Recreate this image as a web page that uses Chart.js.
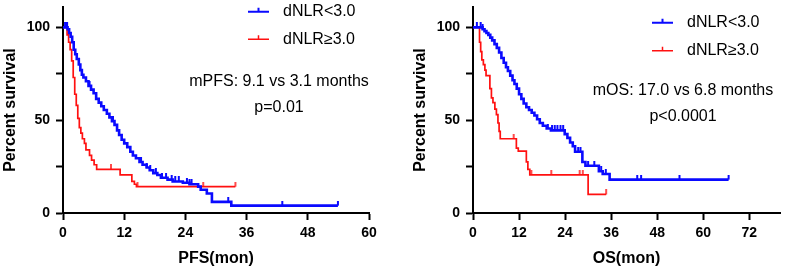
<!DOCTYPE html>
<html><head><meta charset="utf-8">
<script src="https://cdn.jsdelivr.net/npm/chart.js@4"></script>
<style>
html,body{margin:0;padding:0;background:#fff;}
#wrap{position:relative;width:785px;height:274px;overflow:hidden;background:#fff;}
#c1{position:absolute;left:0;top:0;}
#c2{position:absolute;left:395px;top:0;}
</style></head><body>
<div id="wrap"><canvas id="c1" width="395" height="274"></canvas><canvas id="c2" width="390" height="274"></canvas></div>
<script>
// ---------- DATA (time in months, survival in %) ----------
const seriesLabels = ['dNLR<3.0', 'dNLR\u22653.0'];

const pfsLow = [[0,100],[0.9,99],[1.2,97],[1.5,95],[1.8,92],[2.1,88],[2.4,85.5],[2.7,83],[3.1,80],[3.4,77],[3.7,74.5],[4.0,73],[4.5,71],[5.0,68.5],[5.5,66.5],[6.0,64.5],[6.5,61.5],[7.0,59.5],[7.5,57.5],[8.0,55.5],[8.6,53.5],[9.1,51.5],[9.6,49.5],[10.1,47.5],[10.6,44.5],[11.0,42],[11.5,39.5],[12.0,37.5],[12.6,35.5],[13.2,33],[13.7,31],[14.3,29.5],[15.0,27.5],[15.6,26],[16.4,24.5],[17.0,23],[17.7,21.5],[18.5,20.5],[19.2,19],[20.5,18],[21.5,17],[23.5,16.3],[24.8,15.5],[26.5,14.2],[27.0,12.5],[28.2,10.5],[29.2,6],[33.0,4],[53.9,4]];
const pfsLowCensor = [0.4,0.6,0.8,5.2,9.8,15.3,16.4,17.1,18.2,19.4,20.2,21.3,22.0,22.7,24.3,24.8,25.2,32.4,43.0,53.9];
const pfsHigh = [[0,100],[0.8,96],[1.1,92],[1.4,88],[1.7,82],[2.0,73],[2.3,64],[2.6,58],[2.9,51],[3.2,46],[3.5,43],[3.8,40],[4.2,37.5],[4.5,34],[5.2,31],[5.6,28.5],[6.1,26],[6.6,23.5],[11.2,20.5],[13.5,17],[14.0,15.5],[14.4,14.2],[33.8,14.2]];
const pfsHighCensor = [9.4,14.6,27.5,33.8];

const osLow = [[0,100],[2.5,99],[3.0,98],[3.5,97],[4.0,96],[4.5,94.5],[5.0,93],[5.6,91],[6.2,89],[6.8,86.5],[7.4,83.5],[8.0,81],[8.6,78.5],[9.1,76.5],[9.7,74],[10.3,71.5],[10.8,69.5],[11.4,67],[12.0,64],[12.6,61.5],[13.2,59],[13.9,57],[14.6,55.5],[15.3,54],[16.0,52.5],[16.7,50.5],[17.4,48.5],[18.2,47],[19.2,45.5],[20.3,44.5],[23.9,42.5],[24.6,40.5],[25.3,38],[26.0,36],[26.6,33],[28.5,27.5],[29.3,25.5],[32.8,22.5],[33.8,21],[35.6,18],[66.6,18]];
const osLowCensor = [1.0,2.0,2.5,19.5,20.6,21.3,22.0,22.8,23.5,27.4,28.0,30.0,31.6,33.4,34.6,42.8,43.8,53.8,66.6];
const osHigh = [[0,100],[1.7,92],[2.0,87],[2.3,82.5],[2.7,80],[3.1,77],[3.4,74],[4.4,67],[4.8,62],[5.2,59.5],[5.7,56],[6.1,53],[6.5,48.5],[6.8,44],[7.1,40],[11.3,35],[11.8,33.3],[13.9,27.5],[14.3,23.5],[14.8,20.5],[30.0,10],[34.7,10]];
const osHighCensor = [10.6,15.2,20.4,27.8,28.6,34.7];

const pfsXTicks = [0,12,24,36,48,60];
const osXTicks = [0,12,24,36,48,60,72];
const yTicks = [0,25,50,75,100];
const yTickLabels = [0,50,100];

const pfsNote = ['mPFS: 9.1 vs 3.1 months', 'p=0.01'];
const osNote = ['mOS: 17.0 vs 6.8 months', 'p<0.0001'];

// ---------- helpers ----------
const BLUE = '#0a0aff', RED = '#ff1010';
const FAM = '"Liberation Sans", Arial, sans-serif';
Chart.defaults.font.family = FAM;
Chart.defaults.color = '#000';

const toPts = c => c.map(p => ({x: p[0], y: p[1]}));
function stepValue(curve, t) {
  let v = curve[0][1];
  for (const p of curve) { if (p[0] <= t) v = p[1]; else break; }
  return v;
}
const censorPts = (curve, ts) => ts.map(t => ({x: t, y: stepValue(curve, t)}));
function tickImg(color, w) {
  const c = document.createElement('canvas');
  c.width = 4; c.height = 10;
  const g = c.getContext('2d');
  g.fillStyle = color;
  g.fillRect((4 - w) / 2, 0, w, 5);
  return c;
}

const overlay = {
  id: 'overlay',
  afterDraw(chart, args, o) {
    const ctx = chart.ctx;
    ctx.save();
    const cols = [BLUE, RED], widths = [2, 1.5];
    o.legendY.forEach((y, i) => {
      ctx.strokeStyle = cols[i]; ctx.lineWidth = widths[i];
      ctx.beginPath();
      ctx.moveTo(o.legendX, y); ctx.lineTo(o.legendX + 21, y);
      ctx.moveTo(o.legendX + 10.5, y); ctx.lineTo(o.legendX + 10.5, y - 4);
      ctx.stroke();
      ctx.fillStyle = '#000';
      ctx.font = '16px ' + FAM;
      ctx.textAlign = 'left'; ctx.textBaseline = 'middle';
      ctx.fillText(chart.data.datasets[i + 2].label, o.legendX + 35, y);
    });
    ctx.font = '16px ' + FAM;
    ctx.textAlign = 'center'; ctx.textBaseline = 'middle';
    o.note.forEach((t, i) => ctx.fillText(t, o.noteX, o.noteY[i]));
    ctx.restore();
  }
};

function makeChart(id, low, lowC, high, highC, xTicks, xMax, xTitle, yWidth, yTitlePad, padRight, ov) {
  return new Chart(document.getElementById(id), {
    type: 'line',
    data: { datasets: [
      {type: 'scatter', data: censorPts(low, lowC), pointStyle: tickImg(BLUE, 2), order: 0, showLine: false},
      {type: 'scatter', data: censorPts(high, highC), pointStyle: tickImg(RED, 1.5), order: 2, showLine: false},
      {label: seriesLabels[0], data: toPts(low), borderColor: BLUE, borderWidth: 2.6, stepped: true, pointRadius: 0, fill: false, order: 1},
      {label: seriesLabels[1], data: toPts(high), borderColor: RED, borderWidth: 1.7, stepped: true, pointRadius: 0, fill: false, order: 3}
    ]},
    options: {
      responsive: false, animation: false, events: [],
      layout: {padding: {left: 0, right: padRight, top: 7, bottom: 0}},
      plugins: {legend: {display: false}, tooltip: {enabled: false}, overlay: ov},
      scales: {
        x: {
          type: 'linear', min: 0, max: xMax,
          afterBuildTicks: s => { s.ticks = xTicks.map(v => ({value: v})); },
          afterFit: s => { s.height = 61; s.paddingLeft = 0; s.paddingRight = 0; },
          ticks: {font: {size: 14, weight: 'bold'}, padding: 5, maxRotation: 0, autoSkip: false, color: '#000'},
          grid: {drawOnChartArea: false, drawTicks: true, tickLength: 7, tickWidth: 2, tickColor: '#000'},
          border: {display: true, color: '#000', width: 2},
          title: {display: true, text: xTitle, font: {size: 16, weight: 'bold'}, padding: {top: 0, bottom: 6}, color: '#000'}
        },
        y: {
          type: 'linear', min: 0, max: 111,
          afterBuildTicks: s => { s.ticks = yTicks.map(v => ({value: v})); },
          afterFit: s => { s.width = yWidth; s.paddingTop = 0; s.paddingBottom = 0; },
          ticks: {font: {size: 14, weight: 'bold'}, padding: 6, color: '#000',
                  callback: v => yTickLabels.includes(v) ? String(v) : ''},
          grid: {drawOnChartArea: false, drawTicks: true, tickLength: 7, tickWidth: 2, tickColor: '#000'},
          border: {display: true, color: '#000', width: 2},
          title: {display: true, text: 'Percent survival', font: {size: 16, weight: 'bold'}, padding: {top: yTitlePad, bottom: 0}, color: '#000'}
        }
      }
    },
    plugins: [overlay]
  });
}

makeChart('c1', pfsLow, pfsLowCensor, pfsHigh, pfsHighCensor, pfsXTicks, 60, 'PFS(mon)', 63, 1, 26,
  {legendX: 248, legendY: [11.7, 39.3], note: pfsNote, noteX: 279, noteY: [82, 108]});
makeChart('c2', osLow, osLowCensor, osHigh, osHighCensor, osXTicks, 80, 'OS(mon)', 78, 16, 4,
  {legendX: 257, legendY: [22.7, 50.7], note: osNote, noteX: 288, noteY: [90.7, 116.7]});
</script>
</body></html>
